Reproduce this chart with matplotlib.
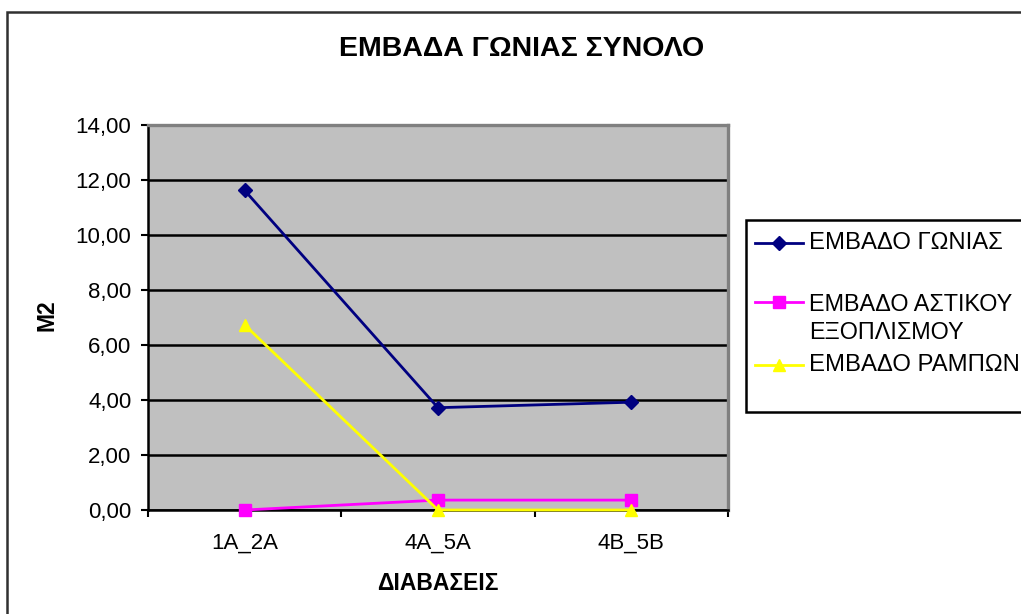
import matplotlib
matplotlib.use('Agg')
from matplotlib import pyplot as plt
from matplotlib.lines import Line2D
from matplotlib.patches import Rectangle
from matplotlib.ticker import FuncFormatter

plt.rcParams['font.family'] = ['Liberation Sans', 'DejaVu Sans']

categories = ['1A_2A', '4A_5A', '4B_5B']
embado_gonias = [11.62, 3.72, 3.92]
embado_astikou = [0.00, 0.36, 0.36]
embado_rampon = [6.73, 0.00, 0.00]

series_labels = ['ΕΜΒΑΔΟ ΓΩΝΙΑΣ', 'ΕΜΒΑΔΟ ΑΣΤΙΚΟΥ\nΕΞΟΠΛΙΣΜΟΥ', 'ΕΜΒΑΔΟ ΡΑΜΠΩΝ']
series_colors = ['#000080', '#FF00FF', '#FFFF00']
series_markers = ['D', 's', '^']
series_values = [embado_gonias, embado_astikou, embado_rampon]

W, H = 1021, 614

def fx(px):
    return px / W

def fy(py):
    return 1 - py / H

def msize(mk):
    return {'D': 7, 's': 8, '^': 9}[mk]

fig = plt.figure(figsize=(W / 100, H / 100), dpi=100)

# outer chart border (runs off the right / bottom like the original)
fig.add_artist(Rectangle((fx(7), fy(640)), fx(1040) - fx(7), fy(12) - fy(640),
                         transform=fig.transFigure, fill=False,
                         edgecolor='#303030', linewidth=1.8))

ax = fig.add_axes([fx(148), fy(510), fx(728) - fx(148), fy(125) - fy(510)])
ax.set_facecolor('#C0C0C0')

x = list(range(len(categories)))
for vals, col, mk in zip(series_values, series_colors, series_markers):
    ax.plot(x, vals, color=col, marker=mk, markersize=msize(mk),
            linewidth=2, clip_on=False, zorder=3)

ax.set_xlim(-0.5, 2.5)
ax.set_ylim(0, 14)
ax.set_yticks(range(0, 15, 2))
ax.yaxis.set_major_formatter(FuncFormatter(lambda v, p: f'{v:.2f}'.replace('.', ',')))
ax.set_xticks(x)
ax.set_xticklabels(categories)
ax.set_xticks([-0.5, 0.5, 1.5, 2.5], minor=True)

ax.set_axisbelow(True)
ax.yaxis.grid(True, color='black', linewidth=1.8)
ax.xaxis.grid(False)

ax.tick_params(axis='x', which='major', length=0, pad=16, labelsize=16)
ax.tick_params(axis='x', which='minor', length=5, width=1.5, direction='out')
ax.tick_params(axis='y', length=5, width=1.5, direction='out', pad=7, labelsize=16)

for side in ['left', 'bottom']:
    ax.spines[side].set_color('black')
    ax.spines[side].set_linewidth(1.8)
for side in ['top', 'right']:
    ax.spines[side].set_color('#808080')
    ax.spines[side].set_linewidth(2.4)

fig.text(fx(522), fy(49), 'ΕΜΒΑΔΑ ΓΩΝΙΑΣ ΣΥΝΟΛΟ', ha='center', va='center',
         fontsize=20.5, fontweight='bold')
fig.text(fx(438), fy(583), 'ΔΙΑΒΑΣΕΙΣ', ha='center', va='center',
         fontsize=16.5, fontweight='bold')
fig.text(fx(47), fy(315), 'M2', ha='center', va='center', rotation=90,
         fontsize=16.5, fontweight='bold')

# legend box, drawn by hand to keep Excel's spacing
fig.add_artist(Rectangle((fx(746), fy(412)), fx(1040) - fx(746), fy(220) - fy(412),
                         transform=fig.transFigure, facecolor='white',
                         edgecolor='black', linewidth=1.8))
legend_rows = [243, 302, 365]
for lab, col, mk, row in zip(series_labels, series_colors, series_markers, legend_rows):
    fig.add_artist(Line2D([fx(755), fx(803)], [fy(row), fy(row)], color=col,
                          linewidth=2, transform=fig.transFigure))
    fig.add_artist(Line2D([fx(779)], [fy(row)], color=col, marker=mk,
                          markersize=msize(mk), linestyle='none',
                          transform=fig.transFigure))
    if '\n' in lab:
        fig.text(fx(809), fy(row - 9), lab, ha='left', va='top', fontsize=16.8,
                 linespacing=1.3)
    else:
        fig.text(fx(809), fy(row), lab, ha='left', va='center', fontsize=17.2)

fig.savefig('out.png', dpi=100)
